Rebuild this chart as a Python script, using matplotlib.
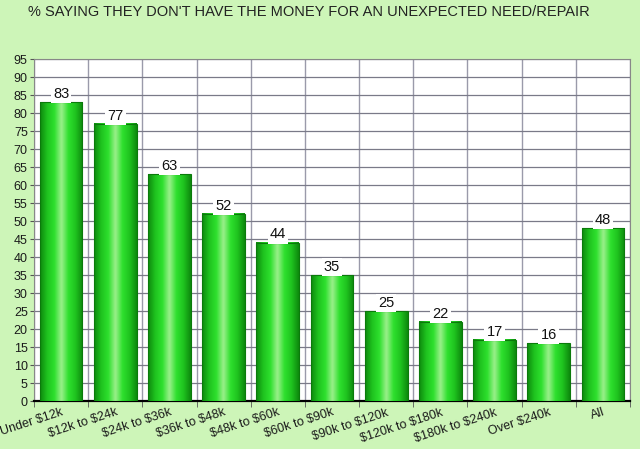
import numpy as np
import matplotlib
matplotlib.use('agg')
import matplotlib.pyplot as plt
from matplotlib.colors import LinearSegmentedColormap

categories = ['Under $12k', '$12k to $24k', '$24k to $36k', '$36k to $48k',
              '$48k to $60k', '$60k to $90k', '$90k to $120k', '$120k to $180k',
              '$180k to $240k', 'Over $240k', 'All']
values = [83, 77, 63, 52, 44, 35, 25, 22, 17, 16, 48]
title = "% SAYING THEY DON'T HAVE THE MONEY FOR AN UNEXPECTED NEED/REPAIR"

plt.rcParams['font.family'] = ['Liberation Sans', 'DejaVu Sans']
plt.rcParams['text.parse_math'] = False

bg = '#cdf5b8'
fig = plt.figure(figsize=(6.4, 4.49), dpi=100, facecolor=bg)
ax = fig.add_axes([34 / 640, 48 / 449, 596 / 640, 342 / 449])
ax.set_facecolor('white')

# cylinder-like gradient for the bars
shade = LinearSegmentedColormap.from_list(
    'bar', ['#0e8a0e', '#1fc41f', '#2ee02e', '#9cf08c', '#2ee02e', '#1fc41f', '#0e8a0e'])
grad = np.linspace(0, 1, 64).reshape(1, -1)
width = 0.79
x = np.arange(len(categories))
for xi, v in zip(x, values):
    ax.imshow(grad, cmap=shade, extent=(xi - width / 2, xi + width / 2, 0, v),
              aspect='auto', zorder=3, interpolation='bicubic')
    ax.bar(xi, v, width, facecolor='none', edgecolor='#0b7a0b', linewidth=0.8, zorder=4)
    ax.text(xi, v + 2.3, str(v), ha='center', va='center', fontsize=10.5, color='#111111',
            zorder=5, bbox=dict(boxstyle='square,pad=0.15', facecolor='white', edgecolor='none'))

ax.set_xlim(-0.5, len(categories) - 0.5)
ax.set_ylim(0, 95)
ax.set_yticks(np.arange(0, 96, 5))
ax.set_xticks(x)
ax.set_xticklabels(categories, rotation=18, ha='right', rotation_mode='anchor', fontsize=9)
ax.set_xticks(np.arange(-0.5, len(categories), 1), minor=True)
ax.tick_params(axis='x', which='major', length=0, pad=4)
ax.tick_params(axis='x', which='minor', length=4, color='#555555', direction='out')
ax.tick_params(axis='y', length=3, color='#555555', labelsize=9, pad=1.5)
for lab in ax.get_yticklabels() + ax.get_xticklabels():
    lab.set_color('#1a1a1a')

ax.grid(True, axis='y', color='#7a7a88', linewidth=0.9, zorder=0)
ax.grid(True, axis='x', which='minor', color='#9a9aaa', linewidth=1.0, zorder=0)
ax.set_axisbelow(True)

for side in ['top', 'right', 'left']:
    ax.spines[side].set_color('#888888')
    ax.spines[side].set_linewidth(0.8)
ax.spines['bottom'].set_color('black')
ax.spines['bottom'].set_linewidth(1.6)

fig.text(28 / 640, 1 - 12 / 449, title, ha='left', va='center', fontsize=10.5, color='#222222')

fig.savefig('out.png', dpi=100, facecolor=bg)
